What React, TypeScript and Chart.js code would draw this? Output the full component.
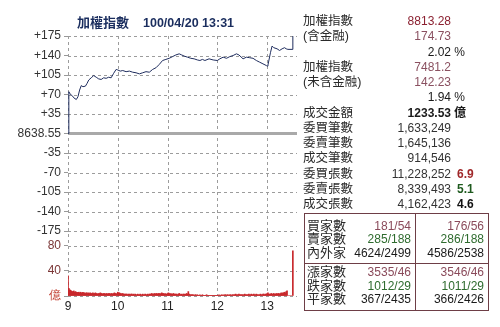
import React, { useEffect, useRef } from "react";
import { Chart, registerables } from "chart.js";
Chart.register(...registerables);

const TITLE_NAME = "加權指數";
const TITLE_TIME = "100/04/20 13:31";
const BASE_LABEL = "8638.55";
const HOUR_LABELS = ["9", "10", "11", "12", "13"];
const SESSION = ["09:00", "13:36"];

// intraday change vs. previous close (points)
const PRICE_TIMES = [
  "09:00", "09:01", "09:03", "09:05", "09:07", "09:10", "09:12", "09:14", "09:16", "09:18",
  "09:21", "09:23", "09:25", "09:28", "09:31", "09:34", "09:37", "09:40", "09:43", "09:46",
  "09:49", "09:52", "09:55", "09:58", "10:00", "10:03", "10:06", "10:10", "10:14", "10:18",
  "10:22", "10:26", "10:30", "10:34", "10:38", "10:42", "10:46", "10:50", "10:54", "10:58",
  "11:02", "11:06", "11:10", "11:14", "11:17", "11:20", "11:24", "11:28", "11:32", "11:36",
  "11:39", "11:42", "11:45", "11:50", "11:55", "12:00", "12:03", "12:07", "12:11", "12:15",
  "12:19", "12:23", "12:26", "12:31", "12:35", "12:39", "12:43", "12:47", "12:51", "12:55",
  "12:59", "13:00", "13:01", "13:04", "13:06", "13:08", "13:12", "13:15", "13:18", "13:21",
  "13:23", "13:25", "13:30", "13:31",
];
const PRICE_CHANGE = [
  0, 75, 70, 68, 64, 61, 66, 78, 86, 84,
  85, 90, 96, 100, 104, 101, 98, 97, 100, 99,
  101, 100, 108, 115, 114, 112, 113, 111, 112, 110,
  109, 107, 109, 111, 110, 115, 118, 124, 131, 133,
  135, 138, 141, 143, 141, 139, 137, 135, 134, 132,
  131, 133, 131, 134, 132, 131, 134, 137, 135, 138,
  140, 143, 141, 134, 137, 136, 135, 131, 128, 125,
  122, 121, 123, 145, 157, 154, 152, 149, 152, 154,
  152, 151, 151, 174.73,
];

// per-minute volume (億) starting 09:00
const VOLUME = [
  32, 12, 10, 9, 8, 7, 7, 8, 6, 7,
  6, 6, 5, 6, 5, 6, 5, 5, 6, 5,
  5, 4, 5, 5, 4, 5, 4, 5, 4, 4,
  5, 4, 4, 5, 4, 4, 3, 4, 4, 5,
  4, 4, 3, 4, 4, 3, 4, 4, 3, 4,
  4, 3, 4, 4, 3, 4, 5, 4, 4, 3,
  6, 5, 5, 4, 4, 3, 4, 3, 3, 3,
  3, 3, 2, 3, 3, 2, 3, 3, 2, 3,
  2, 3, 2, 2, 3, 2, 2, 3, 2, 2,
  3, 2, 2, 3, 2, 2, 3, 2, 3, 3,
  3, 4, 3, 3, 4, 3, 4, 4, 3, 4,
  4, 3, 4, 5, 4, 4, 3, 4, 3, 3,
  4, 5, 4, 3, 4, 3, 3, 4, 3, 3,
  3, 3, 2, 3, 4, 3, 2, 3, 2, 3,
  3, 2, 3, 4, 3, 7, 3, 2, 2, 2,
  2, 2, 1, 2, 2, 1, 2, 1, 1, 2,
  1, 1, 2, 1, 1, 1, 1, 2, 1, 1,
  1, 1, 1, 1, 1, 1, 1, 1, 1, 1,
  1, 1, 2, 1, 1, 2, 1, 2, 1, 2,
  2, 1, 2, 2, 1, 2, 2, 1, 2, 2,
  2, 2, 3, 2, 2, 2, 3, 2, 2, 2,
  2, 2, 2, 3, 2, 2, 2, 2, 3, 2,
  2, 3, 2, 2, 3, 2, 2, 3, 2, 2,
  2, 2, 3, 2, 2, 3, 3, 2, 3, 3,
  4, 5, 3, 3, 3, 4, 3, 3, 4, 3,
  3, 4, 3, 4, 4, 3, 4, 5, 4, 5,
  5, 6, 5, 7, 8,
  0, 0, 0, 0, 0, 0,
  71.5,
];

const SUMMARY_LABELS = ["加權指數", "(含金融)", "", "加權指數", "(未含金融)", "", "成交金額", "委買筆數", "委賣筆數", "成交筆數", "委買張數", "委賣張數", "成交張數"];
const SUMMARY_VALUES = ["8813.28", "174.73", "2.02 %", "7481.2", "142.23", "1.94 %", "1233.53", "1,633,249", "1,645,136", "914,546", "11,228,252", "8,339,493", "4,162,423"];
const SUMMARY_RATIOS = ["", "", "", "", "", "", "", "", "", "", "6.9", "5.1", "4.6"];

const BOX_LABELS = ["買家數", "賣家數", "內外家", "漲家數", "跌家數", "平家數"];
const BOX_LEFT = ["181/54", "285/188", "4624/2499", "3535/46", "1012/29", "367/2435"];
const BOX_RIGHT = ["176/56", "286/188", "4586/2538", "3546/46", "1011/29", "366/2426"];

const FONT = "'Liberation Sans', 'Noto Sans CJK TC', sans-serif";
const UP = "#8a4a5a";
const DOWN = "#2e6b2e";
const DARK = "#1a1a1a";
const GRID = "#9c9c9c";

function toMin(t: string) {
  const [h, m] = t.split(":").map(Number);
  return (h - 9) * 60 + m;
}

// dashed grid drawn from the scales' own ticks
const dashedGrid = {
  id: "dashedGrid",
  beforeDatasetsDraw(chart: any) {
    const { ctx, chartArea } = chart;
    ctx.save();
    ctx.strokeStyle = GRID;
    ctx.lineWidth = 1;
    ctx.setLineDash([3, 3]);
    const xs = chart.scales.x;
    xs.ticks.forEach((t: any) => {
      const px = Math.round(xs.getPixelForValue(t.value)) + 0.5;
      ctx.beginPath();
      ctx.moveTo(px, chartArea.top);
      ctx.lineTo(px, chartArea.bottom);
      ctx.stroke();
    });
    ["y", "yv"].forEach((id) => {
      const s = chart.scales[id];
      s.ticks.forEach((t: any) => {
        if (id === "y" && t.value === 0) return;
        const py = Math.round(s.getPixelForValue(t.value)) + 0.5;
        ctx.beginPath();
        ctx.moveTo(chartArea.left, py);
        ctx.lineTo(chartArea.right, py);
        ctx.stroke();
      });
    });
    ctx.restore();
  },
};

function IndexChart() {
  const ref = useRef<HTMLCanvasElement | null>(null);
  useEffect(() => {
    if (!ref.current) return;
    Chart.defaults.font.family = "'Liberation Sans', sans-serif";
    const xMin = toMin(SESSION[0]);
    const xMax = toMin(SESSION[1]);
    const chart = new Chart(ref.current, {
      type: "line",
      plugins: [dashedGrid],
      data: {
        datasets: [
          {
            type: "line",
            data: PRICE_TIMES.map((t, i) => ({ x: toMin(t), y: PRICE_CHANGE[i] })),
            xAxisID: "x",
            yAxisID: "y",
            borderColor: "#1f2d5e",
            borderWidth: 1,
            pointRadius: 0,
            tension: 0,
            fill: false,
            order: 0,
          },
          {
            type: "line",
            data: [{ x: xMin, y: 0 }, { x: xMax, y: 0 }],
            xAxisID: "x",
            yAxisID: "y",
            borderColor: "#a9a9a9",
            borderWidth: 3,
            pointRadius: 0,
            fill: false,
            order: 2,
          },
          {
            type: "bar",
            data: VOLUME.map((v, i) => ({ x: i, y: v })),
            xAxisID: "x",
            yAxisID: "yv",
            backgroundColor: "#c8282c",
            borderWidth: 0,
            barThickness: 1,
            order: 1,
          } as any,
        ],
      },
      options: {
        animation: false,
        responsive: false,
        maintainAspectRatio: false,
        layout: { padding: { left: 0, right: 3, top: 36, bottom: 10.6 } },
        plugins: { legend: { display: false }, tooltip: { enabled: false }, title: { display: false } },
        scales: {
          x: {
            type: "linear",
            min: xMin,
            max: xMax,
            offset: false,
            grid: { drawOnChartArea: false, drawTicks: false, offset: false },
            border: { display: false },
            ticks: {
              stepSize: 60,
              includeBounds: false,
              autoSkip: false,
              maxRotation: 0,
              padding: 3,
              color: "#222",
              font: { size: 12 },
              callback: (v: any) => HOUR_LABELS[Number(v) / 60] ?? "",
            },
          },
          yv: {
            type: "linear",
            position: "left",
            stack: "main",
            stackWeight: 1,
            min: 0,
            max: 103,
            grid: { drawOnChartArea: false, tickLength: 4, tickColor: "#999" },
            border: { display: false },
            ticks: {
              stepSize: 40,
              includeBounds: false,
              autoSkip: false,
              padding: 3,
              font: { size: 12 },
              color: (ctx: any) => (ctx.tick && ctx.tick.value === 0 ? "#c0392b" : "#7a3535"),
              callback: (v: any) => (Number(v) === 0 ? "億" : String(v)),
            },
            afterFit: (s: any) => { s.width = 68; },
          },
          y: {
            type: "linear",
            position: "left",
            stack: "main",
            stackWeight: 3,
            min: -175,
            max: 175,
            grid: { drawOnChartArea: false, tickLength: 4, tickColor: "#999" },
            border: { display: false },
            ticks: {
              stepSize: 35,
              autoSkip: false,
              padding: 3,
              color: "#333",
              font: { size: 12 },
              callback: (v: any) => {
                const n = Number(v);
                if (n === 0) return BASE_LABEL;
                return n > 0 ? "+" + n : String(n);
              },
            },
            afterFit: (s: any) => { s.width = 68; },
          },
        } as any,
      },
    });
    return () => chart.destroy();
  }, []);
  return (
    <canvas
      ref={ref}
      width={300}
      height={327}
      style={{ position: "absolute", left: 0, top: 0, width: 300, height: 327 }}
    />
  );
}

function SummaryPanel() {
  const rowH = 15.25;
  return (
    <>
      {SUMMARY_LABELS.map((lab, i) => {
        const isPct = SUMMARY_VALUES[i].includes("%");
        let color = "#333";
        let bold = false;
        if (i === 0) color = "#8b2030";
        else if (i === 1 || i === 3 || i === 4) color = "#8a5060";
        else if (isPct) color = DARK;
        if (i === 6) { bold = true; color = DARK; }
        const ratioColor = i === 10 ? "#a0282a" : i === 11 ? "#1e5a1e" : "#111";
        return (
          <div
            key={i}
            style={{ position: "absolute", left: 303, top: 14.2 + i * rowH, width: 190, height: rowH, lineHeight: rowH + "px" }}
          >
            <span style={{ position: "absolute", left: 0, top: 0, fontSize: 12.5, color: "#2a2a2a", whiteSpace: "nowrap" }}>{lab}</span>
            <span style={{ position: "absolute", right: isPct ? 28 : 42, top: 0, fontSize: 12, color, fontWeight: bold ? "bold" : "normal", whiteSpace: "nowrap" }}>
              {SUMMARY_VALUES[i]}
            </span>
            {i === 6 && (
              <span style={{ position: "absolute", left: 151, top: 0, fontSize: 12, color: DARK, fontWeight: "bold" }}>億</span>
            )}
            {SUMMARY_RATIOS[i] && (
              <span style={{ position: "absolute", left: 154, top: 0, fontSize: 12, color: ratioColor, fontWeight: "bold" }}>
                {SUMMARY_RATIOS[i]}
              </span>
            )}
          </div>
        );
      })}
    </>
  );
}

function CountBox() {
  const centers = [225.5, 239, 252.5, 272, 285.5, 299];
  const colorFor = (i: number) => (i === 0 || i === 3 ? UP : i === 1 || i === 4 ? DOWN : DARK);
  const boxColor = "#6e3e46";
  return (
    <>
      <div style={{ position: "absolute", left: 304, top: 213, width: 183, height: 96, border: "1px solid " + boxColor }} />
      <div style={{ position: "absolute", left: 415, top: 213, width: 1, height: 98, background: boxColor }} />
      <div style={{ position: "absolute", left: 304, top: 263, width: 185, height: 1, background: boxColor }} />
      {BOX_LABELS.map((lab, i) => (
        <div key={i} style={{ position: "absolute", left: 304, top: centers[i] - 7, width: 185, height: 14, lineHeight: "14px" }}>
          <span style={{ position: "absolute", left: 3, top: 0, fontSize: 13, color: "#2a2a2a" }}>{lab}</span>
          <span style={{ position: "absolute", right: 185 - 107, top: 0, fontSize: 12, color: colorFor(i) }}>{BOX_LEFT[i]}</span>
          <span style={{ position: "absolute", right: 185 - 180, top: 0, fontSize: 12, color: colorFor(i) }}>{BOX_RIGHT[i]}</span>
        </div>
      ))}
    </>
  );
}

export default function App() {
  return (
    <div style={{ position: "absolute", left: 0, top: 0, width: 500, height: 327, background: "#fff", fontFamily: FONT, overflow: "hidden" }}>
      <IndexChart />
      <div style={{ position: "absolute", left: 77, top: 14, height: 16, lineHeight: "16px", whiteSpace: "nowrap", color: "#1a2d5e", fontWeight: "bold" }}>
        <span style={{ fontSize: 13 }}>{TITLE_NAME}</span>
        <span style={{ fontSize: 12.5, marginLeft: 14 }}>{TITLE_TIME}</span>
      </div>
      <SummaryPanel />
      <CountBox />
    </div>
  );
}
